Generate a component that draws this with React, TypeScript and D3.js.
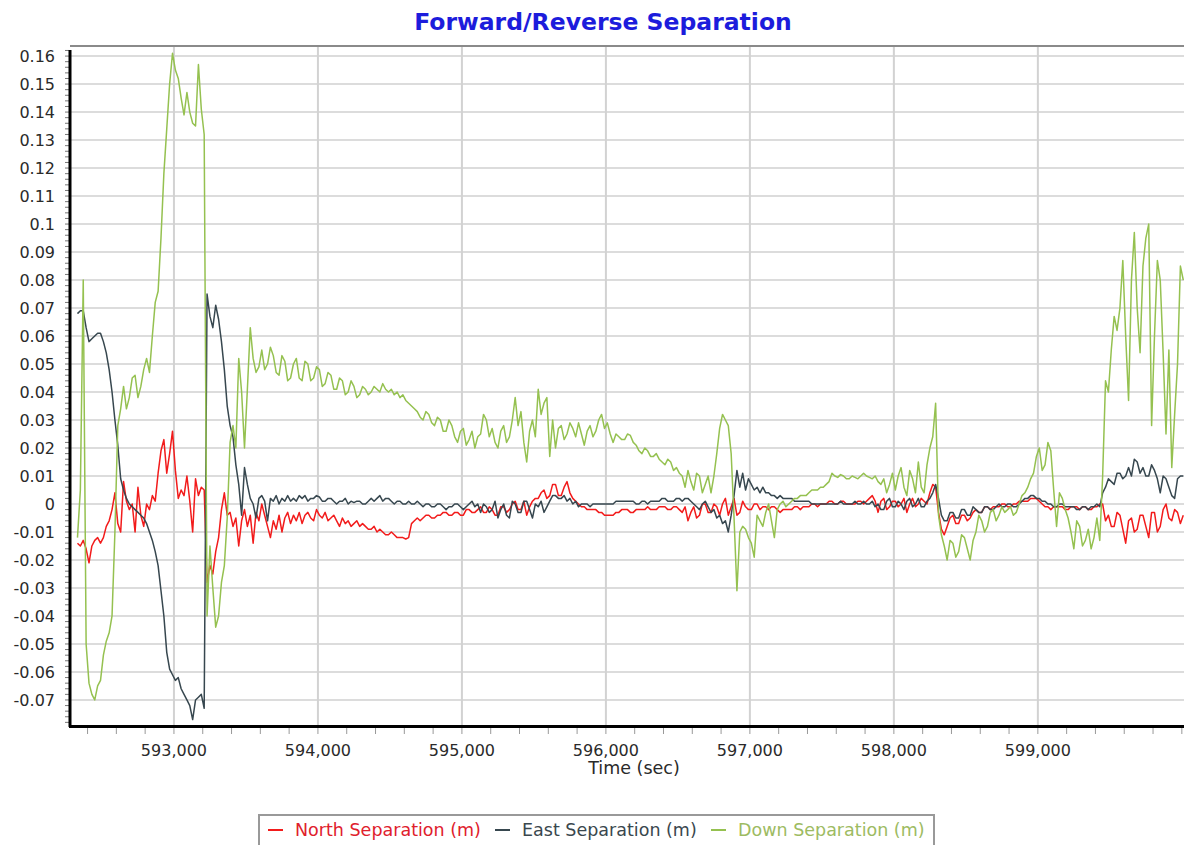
import React from 'react';
import * as d3 from 'd3';

const T0 = 592330;
const DT = 20;

const northValues = [
  -0.014, -0.015, -0.013, -0.016, -0.021, -0.015, -0.013, -0.012, -0.014, -0.012, -0.008, -0.006, -0.002, 0.004, -0.007, -0.010, 0.008, 0.001, -0.002, 0.000,
  -0.010, 0.006, -0.004, -0.008, 0.000, -0.002, 0.003, 0.001, 0.011, 0.019, 0.023, 0.011, 0.018, 0.026, 0.012, 0.002, 0.005, 0.003, 0.010, 0.001,
  -0.010, 0.009, 0.003, 0.006, 0.005, -0.028, -0.022, -0.025, -0.017, -0.012, -0.002, 0.004, -0.004, -0.003, -0.008, -0.005, -0.015, -0.006, -0.002, -0.008,
  -0.004, -0.014, -0.003, -0.006, 0.000, -0.004, -0.008, -0.012, -0.006, -0.009, -0.004, -0.010, -0.005, -0.003, -0.007, -0.004, -0.006, -0.003, -0.007, -0.004,
  -0.003, -0.005, -0.006, -0.002, -0.004, -0.005, -0.003, -0.006, -0.005, -0.004, -0.006, -0.008, -0.005, -0.007, -0.006, -0.008, -0.007, -0.006, -0.008, -0.007,
  -0.008, -0.009, -0.009, -0.008, -0.010, -0.009, -0.010, -0.011, -0.011, -0.010, -0.011, -0.012, -0.012, -0.012, -0.0125, -0.012, -0.007, -0.006, -0.005, -0.006,
  -0.005, -0.004, -0.004, -0.005, -0.005, -0.004, -0.004, -0.003, -0.003, -0.004, -0.004, -0.003, -0.003, -0.004, -0.004, -0.002, -0.002, -0.003, -0.003, -0.002,
  -0.001, -0.003, -0.003, -0.001, -0.002, -0.004, -0.004, -0.001, -0.001, -0.003, -0.002, 0.000, 0.001, -0.002, -0.002, 0.001, -0.004, -0.001, 0.001, 0.002,
  0.002, 0.004, 0.005, 0.002, 0.003, 0.007, 0.007, 0.003, 0.003, 0.006, 0.008, 0.004, 0.002, 0.001, 0.000, -0.001, -0.001, -0.002, -0.002, -0.002,
  -0.002, -0.003, -0.003, -0.004, -0.004, -0.004, -0.004, -0.003, -0.003, -0.002, -0.002, -0.002, -0.003, -0.003, -0.002, -0.002, -0.002, -0.002, -0.001, -0.002,
  -0.002, -0.002, -0.001, -0.001, -0.001, -0.002, -0.002, -0.001, -0.001, -0.002, -0.003, -0.001, -0.006, -0.003, -0.001, -0.005, -0.004, 0.000, 0.000, -0.003,
  -0.003, 0.000, -0.001, -0.004, 0.000, 0.002, -0.004, -0.001, 0.002, -0.004, -0.003, 0.001, -0.001, -0.002, -0.002, 0.000, 0.000, -0.002, -0.001, -0.001,
  -0.002, -0.001, -0.001, -0.002, -0.003, -0.002, -0.002, -0.002, -0.002, -0.001, -0.001, -0.002, -0.001, -0.001, -0.001, 0.000, 0.000, -0.001, 0.000, 0.000,
  0.000, 0.001, 0.001, 0.000, 0.000, 0.001, 0.001, 0.000, 0.000, 0.000, 0.000, 0.001, 0.001, 0.000, 0.001, 0.002, 0.003, 0.001, -0.003, 0.001,
  0.002, -0.002, -0.001, 0.001, 0.001, -0.001, 0.000, 0.002, -0.003, 0.000, 0.002, -0.001, 0.000, 0.002, 0.001, 0.000, 0.004, 0.007, 0.006, -0.003,
  -0.009, -0.011, -0.008, -0.005, -0.004, -0.007, -0.007, -0.004, -0.004, -0.006, -0.005, -0.003, -0.002, -0.003, -0.003, -0.001, -0.001, -0.002, -0.001, -0.001,
  -0.001, 0.000, 0.000, -0.001, -0.001, 0.000, 0.000, 0.001, 0.001, 0.001, 0.001, 0.002, 0.002, 0.002, 0.001, 0.000, -0.001, -0.001, -0.002, -0.001,
  -0.001, -0.001, -0.001, -0.002, -0.002, -0.001, -0.001, -0.001, -0.002, -0.001, -0.001, -0.002, -0.002, -0.001, -0.001, 0.000, 0.000, -0.006, -0.004, -0.008,
  -0.008, -0.003, -0.004, -0.009, -0.014, -0.006, -0.005, -0.010, -0.009, -0.004, -0.004, -0.008, -0.012, -0.003, -0.003, -0.010, -0.008, -0.002, 0.000, -0.005,
  -0.006, -0.002, -0.003, -0.007, -0.004,
];

const eastValues = [
  0.068, 0.069, 0.069, 0.063, 0.058, 0.059, 0.060, 0.061, 0.061, 0.058, 0.054, 0.048, 0.040, 0.030, 0.021, 0.009, 0.005, 0.002, 0.000, -0.001,
  -0.002, -0.003, -0.004, -0.005, -0.007, -0.010, -0.013, -0.017, -0.022, -0.031, -0.040, -0.053, -0.059, -0.061, -0.063, -0.062, -0.066, -0.068, -0.070, -0.072,
  -0.077, -0.070, -0.069, -0.068, -0.073, 0.075, 0.067, 0.063, 0.071, 0.066, 0.058, 0.048, 0.035, 0.028, 0.024, 0.014, 0.007, -0.004, 0.013, 0.007,
  0.002, 0.000, -0.005, 0.002, 0.003, 0.001, -0.006, 0.002, 0.001, 0.003, 0.000, 0.002, 0.001, 0.003, 0.001, 0.002, 0.001, 0.003, 0.002, 0.003,
  0.001, 0.002, 0.002, 0.003, 0.0025, 0.001, 0.001, 0.002, 0.002, 0.001, 0.000, 0.001, 0.001, 0.002, 0.000, 0.001, 0.0005, 0.001, 0.001, 0.000,
  0.000, 0.001, 0.002, 0.001, 0.002, 0.003, 0.001, 0.002, 0.002, 0.001, 0.000, 0.001, 0.001, 0.000, 0.000, 0.001, 0.000, 0.000, 0.001, 0.000,
  -0.001, 0.000, 0.000, -0.001, -0.001, 0.000, 0.000, -0.001, -0.002, -0.001, -0.001, 0.000, 0.000, -0.001, -0.002, -0.001, 0.000, 0.001, -0.001, 0.000,
  -0.003, 0.000, -0.001, -0.003, -0.002, 0.001, -0.005, -0.002, 0.000, -0.004, -0.005, 0.001, 0.000, -0.003, -0.003, 0.001, 0.001, -0.002, -0.005, 0.000,
  -0.001, 0.001, -0.003, -0.001, 0.001, 0.003, 0.003, 0.002, 0.002, 0.003, 0.001, 0.002, 0.000, 0.001, -0.001, 0.000, 0.000, 0.000, -0.001, 0.000,
  0.000, 0.000, 0.000, 0.000, 0.000, 0.000, 0.000, 0.001, 0.001, 0.001, 0.001, 0.001, 0.001, 0.001, 0.000, 0.000, 0.001, 0.001, 0.000, 0.001,
  0.001, 0.001, 0.001, 0.002, 0.002, 0.001, 0.001, 0.001, 0.002, 0.002, 0.001, 0.002, 0.002, 0.001, 0.000, -0.001, -0.002, 0.000, 0.001, -0.001,
  -0.003, -0.002, -0.005, -0.004, -0.007, -0.006, -0.010, -0.004, 0.003, 0.012, 0.006, 0.011, 0.005, 0.009, 0.007, 0.005, 0.006, 0.004, 0.006, 0.004,
  0.004, 0.003, 0.003, 0.002, 0.003, 0.002, 0.002, 0.002, 0.002, 0.001, 0.001, 0.001, 0.001, 0.001, 0.001, 0.000, 0.000, 0.000, 0.000, 0.000,
  0.000, 0.000, 0.000, 0.000, 0.000, 0.001, 0.000, 0.000, 0.000, 0.000, 0.001, 0.000, 0.000, 0.001, 0.000, 0.000, 0.001, -0.001, 0.000, -0.002,
  -0.002, 0.001, 0.002, -0.001, -0.001, 0.001, 0.000, -0.002, 0.001, 0.002, -0.001, 0.000, 0.002, -0.001, -0.001, 0.001, 0.002, 0.004, 0.007, 0.002,
  -0.004, -0.006, -0.006, -0.003, -0.003, -0.005, -0.005, -0.002, -0.002, -0.004, -0.004, -0.001, -0.002, -0.003, -0.003, -0.001, -0.001, -0.002, -0.002, -0.001,
  0.000, -0.001, -0.001, 0.000, 0.000, -0.001, -0.001, 0.000, 0.001, 0.002, 0.002, 0.003, 0.003, 0.002, 0.002, 0.001, 0.001, 0.000, 0.000, -0.001,
  -0.001, 0.000, 0.000, -0.001, -0.001, -0.001, -0.001, -0.002, -0.002, -0.001, -0.001, -0.002, -0.001, -0.001, 0.000, -0.001, 0.004, 0.006, 0.009, 0.008,
  0.007, 0.011, 0.011, 0.009, 0.010, 0.013, 0.010, 0.016, 0.015, 0.011, 0.013, 0.010, 0.010, 0.014, 0.012, 0.009, 0.004, 0.010, 0.009, 0.006,
  0.003, 0.002, 0.009, 0.010, 0.010,
];

const downValues = [
  -0.012, 0.005, 0.080, -0.050, -0.064, -0.068, -0.070, -0.065, -0.063, -0.054, -0.049, -0.046, -0.040, -0.010, 0.028, 0.034, 0.042, 0.034, 0.038, 0.045,
  0.046, 0.038, 0.042, 0.048, 0.052, 0.047, 0.060, 0.072, 0.076, 0.095, 0.118, 0.134, 0.150, 0.161, 0.155, 0.152, 0.145, 0.139, 0.147, 0.140,
  0.136, 0.135, 0.157, 0.141, 0.132, -0.040, -0.015, -0.030, -0.044, -0.040, -0.028, -0.022, -0.005, 0.022, 0.028, 0.020, 0.052, 0.040, 0.020, 0.041,
  0.063, 0.052, 0.047, 0.049, 0.055, 0.048, 0.050, 0.056, 0.053, 0.047, 0.046, 0.053, 0.051, 0.044, 0.045, 0.050, 0.052, 0.045, 0.044, 0.051,
  0.050, 0.044, 0.045, 0.049, 0.048, 0.042, 0.043, 0.047, 0.046, 0.041, 0.041, 0.045, 0.044, 0.039, 0.040, 0.044, 0.042, 0.038, 0.039, 0.042,
  0.041, 0.039, 0.040, 0.042, 0.041, 0.040, 0.043, 0.041, 0.040, 0.041, 0.039, 0.040, 0.038, 0.039, 0.037, 0.036, 0.035, 0.034, 0.033, 0.031,
  0.030, 0.033, 0.032, 0.029, 0.028, 0.031, 0.030, 0.026, 0.026, 0.030, 0.028, 0.024, 0.022, 0.026, 0.027, 0.021, 0.023, 0.026, 0.020, 0.024,
  0.025, 0.032, 0.030, 0.024, 0.027, 0.022, 0.020, 0.026, 0.028, 0.022, 0.024, 0.030, 0.038, 0.028, 0.033, 0.022, 0.015, 0.026, 0.030, 0.024,
  0.041, 0.032, 0.036, 0.038, 0.017, 0.030, 0.020, 0.027, 0.028, 0.023, 0.025, 0.029, 0.027, 0.024, 0.029, 0.025, 0.021, 0.026, 0.028, 0.024,
  0.026, 0.030, 0.032, 0.027, 0.029, 0.025, 0.022, 0.025, 0.024, 0.023, 0.023, 0.025, 0.0245, 0.022, 0.021, 0.019, 0.018, 0.020, 0.019, 0.017,
  0.017, 0.018, 0.016, 0.015, 0.014, 0.016, 0.015, 0.012, 0.013, 0.011, 0.010, 0.006, 0.012, 0.008, 0.005, 0.011, 0.010, 0.004, 0.007, 0.010,
  0.004, 0.010, 0.018, 0.027, 0.032, 0.030, 0.028, 0.018, -0.005, -0.031, -0.010, -0.008, -0.009, -0.012, -0.014, -0.019, -0.004, -0.006, -0.008, -0.003,
  0.000, -0.006, -0.012, -0.002, 0.000, 0.001, -0.001, 0.000, 0.001, 0.002, 0.002, 0.003, 0.003, 0.003, 0.004, 0.005, 0.005, 0.005, 0.006, 0.006,
  0.007, 0.008, 0.011, 0.010, 0.0095, 0.0105, 0.010, 0.009, 0.009, 0.010, 0.0095, 0.009, 0.010, 0.011, 0.010, 0.0095, 0.009, 0.010, 0.008, 0.007,
  0.009, 0.004, 0.007, 0.011, 0.005, 0.010, 0.013, 0.006, 0.003, 0.012, 0.009, 0.004, 0.015, 0.006, 0.004, 0.014, 0.020, 0.024, 0.036, -0.004,
  -0.011, -0.015, -0.020, -0.013, -0.014, -0.019, -0.017, -0.011, -0.012, -0.016, -0.020, -0.013, -0.010, -0.004, -0.006, -0.010, -0.008, -0.003, -0.002, -0.006,
  -0.004, -0.001, -0.003, -0.002, -0.001, -0.004, -0.003, 0.000, 0.003, 0.004, 0.006, 0.009, 0.011, 0.017, 0.020, 0.012, 0.014, 0.022, 0.019, 0.005,
  -0.008, 0.004, 0.002, -0.002, -0.005, -0.010, -0.016, -0.006, -0.008, -0.015, -0.013, -0.009, -0.016, -0.012, -0.005, -0.013, 0.010, 0.044, 0.040, 0.055,
  0.067, 0.062, 0.070, 0.087, 0.060, 0.037, 0.080, 0.097, 0.070, 0.054, 0.085, 0.095, 0.100, 0.028, 0.060, 0.087, 0.080, 0.054, 0.025, 0.055,
  0.013, 0.032, 0.050, 0.085, 0.080,
];

const yTickValues = [
  -0.07, -0.06, -0.05, -0.04, -0.03, -0.02, -0.01, 0, 0.01, 0.02, 0.03, 0.04,
  0.05, 0.06, 0.07, 0.08, 0.09, 0.1, 0.11, 0.12, 0.13, 0.14, 0.15, 0.16,
];
const xTickValues = [593000, 594000, 595000, 596000, 597000, 598000, 599000];

const seriesNames = ['North Separation (m)', 'East Separation (m)', 'Down Separation (m)'];
const seriesColors = ['#f21b1b', '#37474f', '#95c150'];
const legendTextColors = ['#e0202c', '#3a474e', '#9dbb62'];

const W = 1184;
const H = 845;
const PL = 71;
const PR = 1184;
const PT = 46;
const PB = 726;

export default function App() {
  const x = d3.scaleLinear().domain([592285, 600015]).range([PL, PR]);
  const y = d3.scaleLinear().domain([-0.0793, 0.1636]).range([PB, PT]);
  const series = [northValues, eastValues, downValues];
  const line = d3
    .line<number>()
    .x((_, i) => x(T0 + i * DT))
    .y((d) => y(d));

  const yMinor = d3.range(-0.078, 0.1621, 0.002);
  const xMinor = d3.range(592400, 600001, 200);
  const fmt = d3.format(',');
  const font = "'DejaVu Sans', Verdana, sans-serif";

  const legendItems = [
    { x: 268, tx: 295 },
    { x: 495, tx: 522 },
    { x: 711, tx: 738 },
  ];

  return (
    <svg
      width={W}
      height={H}
      style={{ position: 'absolute', left: 0, top: 0, background: '#fff' }}
      fontFamily={font}
    >
      <defs>
        <clipPath id="plotClip">
          <rect x={PL} y={PT + 1} width={PR - PL} height={PB - PT - 2} />
        </clipPath>
      </defs>
      <text x={603} y={30} textAnchor="middle" fontSize={23.5} fontWeight="bold" fill="#1c1cdc">
        Forward/Reverse Separation
      </text>

      {yTickValues.map((v) => (
        <line key={'gy' + v} x1={PL} x2={PR} y1={y(v)} y2={y(v)} stroke="#dcdcdc" strokeWidth={2} />
      ))}
      {xTickValues.map((v) => (
        <line key={'gx' + v} x1={x(v)} x2={x(v)} y1={PT} y2={PB} stroke="#d2d2d2" strokeWidth={2} />
      ))}
      <line x1={PL - 1} x2={PR} y1={PT} y2={PT} stroke="#8a8a8a" strokeWidth={2} />

      <g clipPath="url(#plotClip)">
        {series.map((s, k) => (
          <path
            key={k}
            d={line(s) || ''}
            fill="none"
            stroke={seriesColors[k]}
            strokeWidth={1.5}
            strokeLinejoin="round"
          />
        ))}
      </g>

      {yMinor.map((v, i) => (
        <line key={'ym' + i} x1={65} x2={69} y1={y(v)} y2={y(v)} stroke="#777" strokeWidth={1} />
      ))}
      {xMinor.map((v) => (
        <line key={'xm' + v} x1={x(v)} x2={x(v)} y1={728} y2={734} stroke="#999" strokeWidth={1} />
      ))}
      <line x1={70} x2={70} y1={50} y2={727} stroke="#000" strokeWidth={3} />
      <line x1={69} x2={PR} y1={726.5} y2={726.5} stroke="#000" strokeWidth={3} />

      {yTickValues.map((v) => (
        <text
          key={'ly' + v}
          x={55}
          y={y(v)}
          dy="0.36em"
          textAnchor="end"
          fontSize={16}
          fill="#2a2a2a"
        >
          {String(v)}
        </text>
      ))}
      {xTickValues.map((v) => (
        <text key={'lx' + v} x={x(v)} y={756} textAnchor="middle" fontSize={16} fill="#2a2a2a">
          {fmt(v)}
        </text>
      ))}
      <text x={634} y={774} textAnchor="middle" fontSize={17.5} fill="#2a2a2a">
        Time (sec)
      </text>

      <rect x={259} y={815} width={675} height={33} fill="#fff" stroke="#999" strokeWidth={2} />
      {seriesNames.map((n, k) => (
        <g key={n}>
          <line
            x1={legendItems[k].x}
            x2={legendItems[k].x + 15}
            y1={830}
            y2={830}
            stroke={seriesColors[k]}
            strokeWidth={2}
          />
          <text x={legendItems[k].tx} y={836} fontSize={17.5} fill={legendTextColors[k]}>
            {n}
          </text>
        </g>
      ))}
    </svg>
  );
}
